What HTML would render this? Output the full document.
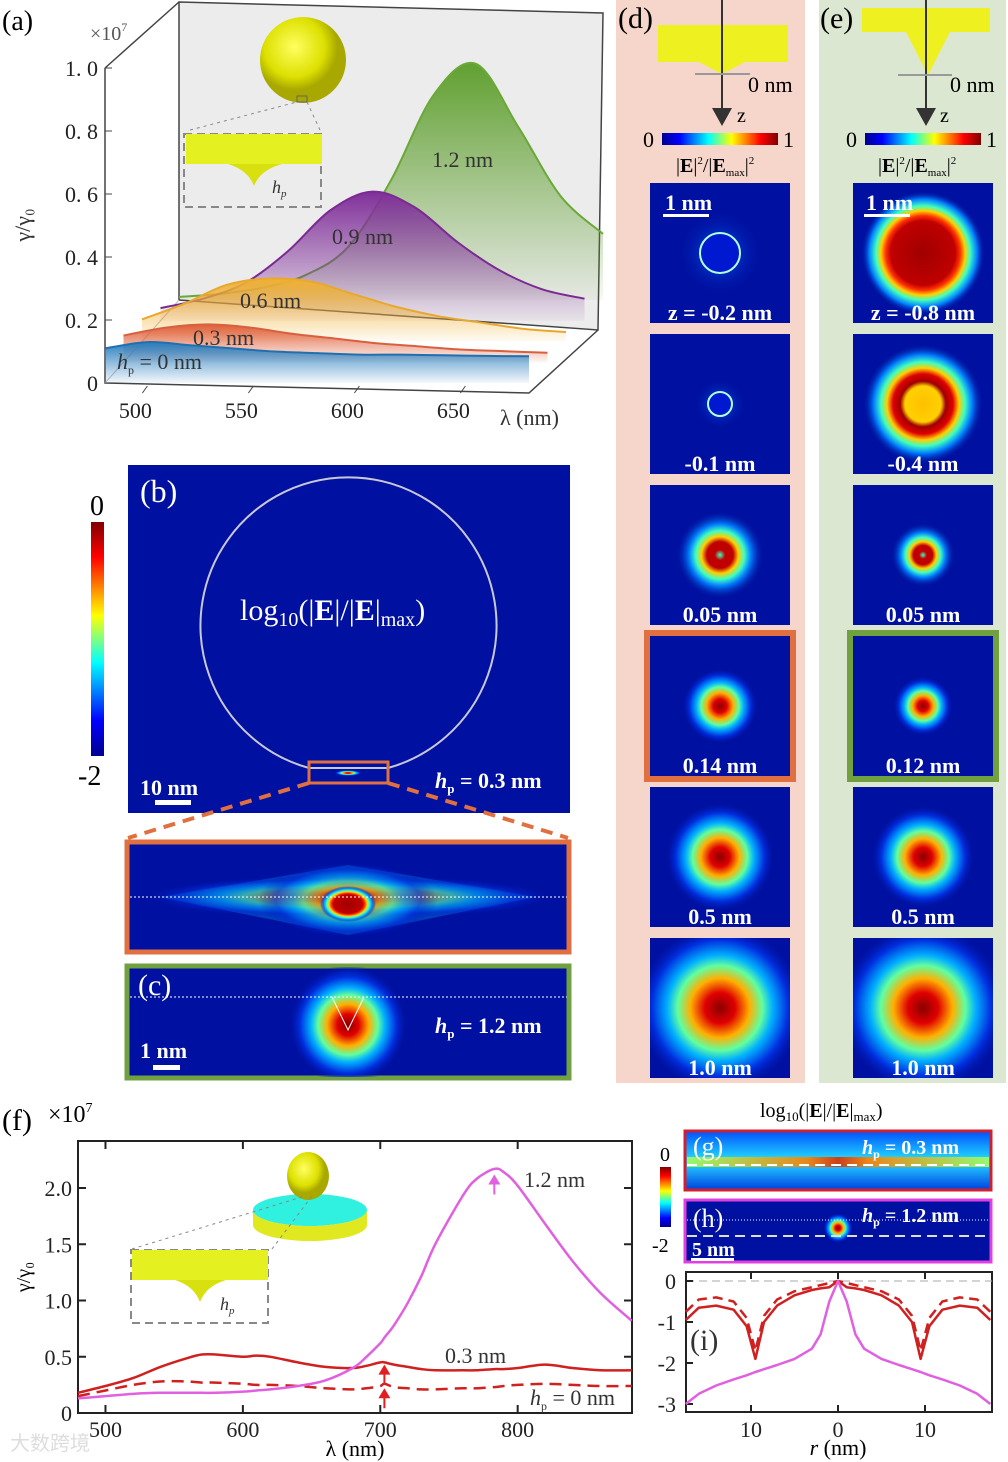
<!DOCTYPE html>
<html><head><meta charset="utf-8">
<style>
html,body{margin:0;padding:0;background:#fff;}
svg{display:block;font-family:"Liberation Serif",serif;}
svg text{font-family:"Liberation Serif",serif;}
.b{font-weight:bold;fill:#fff;}
</style></head>
<body>
<svg id="fig" width="1008" height="1462" viewBox="0 0 1008 1462" xmlns="http://www.w3.org/2000/svg">
<defs>
<radialGradient id="jet"><stop offset="0" stop-color="#8a0000"/><stop offset="0.18" stop-color="#e00000"/><stop offset="0.35" stop-color="#ffb000"/><stop offset="0.5" stop-color="#60ffa0"/><stop offset="0.62" stop-color="#00b0ff"/><stop offset="0.8" stop-color="#0030e0"/><stop offset="1" stop-color="#0010a0" stop-opacity="0"/></radialGradient>
<radialGradient id="jetD"><stop offset="0" stop-color="#a00000"/><stop offset="0.52" stop-color="#c00000"/><stop offset="0.6" stop-color="#ff3000"/><stop offset="0.68" stop-color="#ffd000"/><stop offset="0.76" stop-color="#40ffc0"/><stop offset="0.87" stop-color="#0080ff"/><stop offset="1" stop-color="#0010a0" stop-opacity="0"/></radialGradient>
<radialGradient id="jetY"><stop offset="0" stop-color="#ffc000"/><stop offset="0.3" stop-color="#ffd000"/><stop offset="0.38" stop-color="#a00000"/><stop offset="0.5" stop-color="#e00000"/><stop offset="0.6" stop-color="#ffd000"/><stop offset="0.7" stop-color="#40ffc0"/><stop offset="0.82" stop-color="#0080ff"/><stop offset="1" stop-color="#0010a0" stop-opacity="0"/></radialGradient>
<radialGradient id="jetR"><stop offset="0" stop-color="#40ffc0"/><stop offset="0.12" stop-color="#c00000"/><stop offset="0.3" stop-color="#c00000"/><stop offset="0.42" stop-color="#ffd000"/><stop offset="0.55" stop-color="#40ffc0"/><stop offset="0.7" stop-color="#0080ff"/><stop offset="1" stop-color="#0010a0" stop-opacity="0"/></radialGradient>
<radialGradient id="halo"><stop offset="0" stop-color="#0060ff"/><stop offset="1" stop-color="#0010a0" stop-opacity="0"/></radialGradient>
<linearGradient id="cbarH" x1="0" x2="1"><stop offset="0" stop-color="#00008f"/><stop offset="0.15" stop-color="#0000ff"/><stop offset="0.4" stop-color="#00ffff"/><stop offset="0.6" stop-color="#ffff00"/><stop offset="0.85" stop-color="#ff0000"/><stop offset="1" stop-color="#800000"/></linearGradient>
<linearGradient id="cbarV" x1="0" x2="0" y1="1" y2="0"><stop offset="0" stop-color="#00008f"/><stop offset="0.15" stop-color="#0000ff"/><stop offset="0.4" stop-color="#00ffff"/><stop offset="0.6" stop-color="#ffff00"/><stop offset="0.85" stop-color="#ff0000"/><stop offset="1" stop-color="#800000"/></linearGradient>
<radialGradient id="gold" cx="0.4" cy="0.35"><stop offset="0" stop-color="#ffff60"/><stop offset="0.7" stop-color="#dde000"/><stop offset="1" stop-color="#a8a800"/></radialGradient>
<linearGradient id="fBlue" x1="0" y1="0" x2="0" y2="1"><stop offset="0" stop-color="#2a7fc0"/><stop offset="1" stop-color="#2a7fc0" stop-opacity="0.05"/></linearGradient>
<linearGradient id="fRed" x1="0" y1="0" x2="0" y2="1"><stop offset="0" stop-color="#e0603a"/><stop offset="1" stop-color="#e0603a" stop-opacity="0.05"/></linearGradient>
<linearGradient id="fOr" x1="0" y1="0" x2="0" y2="1"><stop offset="0" stop-color="#f0b030"/><stop offset="1" stop-color="#f0b030" stop-opacity="0.05"/></linearGradient>
<linearGradient id="fPu" x1="0" y1="0" x2="0" y2="1"><stop offset="0" stop-color="#80309a"/><stop offset="1" stop-color="#80309a" stop-opacity="0.05"/></linearGradient>
<linearGradient id="fGr" x1="0" y1="0" x2="0" y2="1"><stop offset="0" stop-color="#60a030"/><stop offset="1" stop-color="#60a030" stop-opacity="0.05"/></linearGradient>
<linearGradient id="gBg" x1="0" y1="0" x2="0" y2="1"><stop offset="0" stop-color="#0050ff"/><stop offset="0.45" stop-color="#20d0ff"/><stop offset="0.6" stop-color="#20c0ff"/><stop offset="1" stop-color="#0040e0"/></linearGradient>
<linearGradient id="gBand" x1="0" x2="1"><stop offset="0" stop-color="#a0ff60"/><stop offset="0.4" stop-color="#ff8000"/><stop offset="0.5" stop-color="#e03000"/><stop offset="0.6" stop-color="#ff8000"/><stop offset="1" stop-color="#a0ff60"/></linearGradient>
<clipPath id="clipZoom"><rect x="128" y="843" width="440" height="108"/></clipPath>
<clipPath id="clipC"><rect x="128" y="967" width="440" height="110"/></clipPath>
</defs>

<!-- Panel (a) -->
<g>
<polygon points="179,2 603,13 598,330 179,300" fill="#ececec" stroke="#444" stroke-width="1.5"/>
<polyline points="105,68 179,2" fill="none" stroke="#444" stroke-width="1.5"/>
<line x1="179" y1="2" x2="179" y2="297" stroke="#444" stroke-dasharray="2,4"/>
<polyline points="105,68 105,383 529,393 598,330" fill="none" stroke="#444" stroke-width="1.5"/>
<line x1="105" y1="383" x2="179" y2="300" stroke="#bbb"/>
<g id="aTicks"></g>
<g id="aCurves"></g>
<text x="2" y="30" font-size="28">(a)</text>
<text x="90" y="40" font-size="20" fill="#555">×10<tspan font-size="12" dy="-9">7</tspan></text>
<text x="30" y="225" font-size="22" fill="#333" transform="rotate(-90 30 225)" text-anchor="middle">γ/γ₀</text>
<text x="500" y="425" font-size="22" fill="#333">λ (nm)</text>
<circle cx="303" cy="60" r="43" fill="url(#gold)"/>
<rect x="297" y="96" width="10" height="6" fill="none" stroke="#666"/>
<line x1="190" y1="130" x2="297" y2="102" stroke="#888" stroke-dasharray="3,4"/>
<line x1="307" y1="102" x2="320" y2="130" stroke="#888" stroke-dasharray="3,4"/>
<rect x="184" y="134" width="137" height="73" fill="none" stroke="#888" stroke-width="2" stroke-dasharray="8,5"/>
<rect x="186" y="134" width="136" height="30" fill="#e4f020"/>
<path d="M228,164 Q248,170 254,186 Q260,170 282,164 Z" fill="#d8e010"/>
<text x="272" y="193" font-size="18" font-style="italic" fill="#333">h<tspan font-size="11" dy="4">p</tspan></text>
<text x="432" y="167" font-size="22" fill="#333">1.2 nm</text>
<text x="332" y="244" font-size="22" fill="#333">0.9 nm</text>
<text x="240" y="308" font-size="22" fill="#333">0.6 nm</text>
<text x="193" y="345" font-size="22" fill="#333">0.3 nm</text>
<text x="117" y="369" font-size="22" fill="#333"><tspan font-style="italic">h</tspan><tspan font-size="12" dy="5">p</tspan><tspan dy="-5"> = 0 nm</tspan></text>
</g>

<!-- Panel (b) -->
<g>
<rect x="128" y="465" width="442" height="348" fill="#0010a0"/>
<path d="M309,768 A148,148 0 1 1 388,768 Z" fill="none" stroke="#c8c8d8" stroke-width="2"/>
<ellipse cx="348" cy="773" rx="14" ry="3" fill="url(#jet)"/>
<rect x="309" y="762" width="79" height="21" fill="none" stroke="#e07040" stroke-width="3"/>
<text x="140" y="502" font-size="32" fill="#fff">(b)</text>
<text x="240" y="620" font-size="30" fill="#fff">log<tspan font-size="20" dy="6">10</tspan><tspan dy="-6">(|<tspan font-weight="bold">E</tspan>|/|<tspan font-weight="bold">E</tspan>|<tspan font-size="20" dy="6">max</tspan><tspan dy="-6">)</tspan></tspan></text>
<text x="140" y="795" font-size="22" class="b">10 nm</text>
<rect x="155" y="800" width="36" height="5" fill="#fff"/>
<text x="435" y="788" font-size="22" class="b"><tspan font-style="italic">h</tspan><tspan font-size="13" dy="5">p</tspan><tspan dy="-5"> = 0.3 nm</tspan></text>
<rect x="91" y="522" width="13" height="234" fill="url(#cbarV)"/>
<text x="90" y="515" font-size="28">0</text>
<text x="78" y="785" font-size="28">-2</text>
<line x1="309" y1="783" x2="128" y2="838" stroke="#e07040" stroke-width="4" stroke-dasharray="12,8"/>
<line x1="388" y1="783" x2="568" y2="838" stroke="#e07040" stroke-width="4" stroke-dasharray="12,8"/>
<rect x="127" y="842" width="442" height="110" fill="#0010a0" stroke="#e07040" stroke-width="5"/>
<g clip-path="url(#clipZoom)">
<polygon points="160,897 348,865 536,897 348,935" fill="#00a0ff" opacity="0.35"/>
<ellipse cx="348" cy="897" rx="210" ry="22" fill="url(#jet)" opacity="0.55"/>
<ellipse cx="348" cy="900" rx="90" ry="38" fill="url(#jet)" opacity="0.6"/>
<ellipse cx="348" cy="904" rx="28" ry="18" fill="url(#jetD)"/>
</g>
<line x1="130" y1="897" x2="567" y2="897" stroke="#fff" stroke-dasharray="2,2"/>
<rect x="127" y="966" width="442" height="112" fill="#0010a0" stroke="#70a040" stroke-width="5"/>
<g clip-path="url(#clipC)">
<circle cx="348" cy="990" r="30" fill="url(#halo)"/>
<circle cx="348" cy="1025" r="60" fill="url(#jet)"/>
</g>
<line x1="130" y1="997" x2="567" y2="997" stroke="#fff" stroke-dasharray="2,2"/>
<path d="M332,997 L348,1030 L364,997" fill="none" stroke="#fff"/>
<text x="138" y="995" font-size="30" fill="#fff">(c)</text>
<text x="435" y="1033" font-size="22" class="b"><tspan font-style="italic">h</tspan><tspan font-size="13" dy="5">p</tspan><tspan dy="-5"> = 1.2 nm</tspan></text>
<text x="140" y="1058" font-size="22" class="b">1 nm</text>
<rect x="153" y="1065" width="27" height="5" fill="#fff"/>
</g>

<!-- Panel (d) & (e) -->
<g>
<rect x="616" y="0" width="189" height="1083" fill="#f6d6ca"/>
<text x="618" y="28" font-size="30">(d)</text>
<path d="M658,25 L788,25 L788,62 L745,62 L722,74 L699,62 L658,62 Z" fill="#eef020"/>
<line x1="722" y1="0" x2="722" y2="110" stroke="#333" stroke-width="2"/>
<polygon points="712,108 732,108 722,126" fill="#333"/>
<line x1="695" y1="74" x2="750" y2="74" stroke="#999" stroke-width="2"/>
<text x="748" y="92" font-size="22">0 nm</text>
<text x="737" y="122" font-size="20">z</text>
<text x="643" y="147" font-size="22">0</text>
<rect x="662" y="133" width="116" height="12" fill="url(#cbarH)"/>
<text x="783" y="147" font-size="22">1</text>
<text x="676" y="172" font-size="20">|<tspan font-weight="bold">E</tspan>|<tspan font-size="11" dy="-8">2</tspan><tspan dy="8">/|</tspan><tspan font-weight="bold">E</tspan><tspan font-size="11" dy="4">max</tspan><tspan dy="-4">|</tspan><tspan font-size="11" dy="-8">2</tspan></text>
</g>
<g>
<rect x="819" y="0" width="187" height="1083" fill="#dbe7d0"/>
<text x="820" y="28" font-size="30">(e)</text>
<path d="M862,8 L990,8 L990,32 L950,32 L928,75 L906,32 L862,32 Z" fill="#eef020"/>
<line x1="926" y1="0" x2="926" y2="110" stroke="#333" stroke-width="2"/>
<polygon points="916,108 936,108 926,126" fill="#333"/>
<line x1="898" y1="75" x2="952" y2="75" stroke="#999" stroke-width="2"/>
<text x="950" y="92" font-size="22">0 nm</text>
<text x="940" y="122" font-size="20">z</text>
<text x="846" y="147" font-size="22">0</text>
<rect x="865" y="133" width="116" height="12" fill="url(#cbarH)"/>
<text x="986" y="147" font-size="22">1</text>
<text x="878" y="172" font-size="20">|<tspan font-weight="bold">E</tspan>|<tspan font-size="11" dy="-8">2</tspan><tspan dy="8">/|</tspan><tspan font-weight="bold">E</tspan><tspan font-size="11" dy="4">max</tspan><tspan dy="-4">|</tspan><tspan font-size="11" dy="-8">2</tspan></text>
</g>
<g id="maps"></g>

<!-- Panel (f) -->
<g>
<text x="2" y="1130" font-size="30">(f)</text>
<text x="48" y="1122" font-size="24">×10<tspan font-size="14" dy="-10">7</tspan></text>
<rect x="78" y="1141" width="554" height="272" fill="none" stroke="#222" stroke-width="2"/>
<g id="fTicks"></g>
<g id="fLines"></g>
<text x="30" y="1277" font-size="20" transform="rotate(-90 30 1277)" text-anchor="middle">γ/γ₀</text>
<text x="355" y="1456" font-size="22" text-anchor="middle">λ (nm)</text>
<text x="524" y="1187" font-size="22" fill="#333">1.2 nm</text>
<text x="445" y="1363" font-size="22" fill="#333">0.3 nm</text>
<text x="530" y="1405" font-size="22" fill="#333"><tspan font-style="italic">h</tspan><tspan font-size="12" dy="5">p</tspan><tspan dy="-5"> = 0 nm</tspan></text>
<ellipse cx="310" cy="1210" rx="57" ry="16" fill="#30f0e0"/>
<path d="M253,1210 L253,1225 A57,16 0 0 0 367,1225 L367,1210 A57,16 0 0 1 253,1210 Z" fill="#e0e820"/>
<ellipse cx="308" cy="1176" rx="21" ry="24" fill="url(#gold)"/>
<line x1="132" y1="1249" x2="305" y2="1196" stroke="#888" stroke-dasharray="3,4"/>
<line x1="272" y1="1249" x2="312" y2="1196" stroke="#888" stroke-dasharray="3,4"/>
<rect x="131" y="1250" width="137" height="73" fill="none" stroke="#888" stroke-width="2" stroke-dasharray="8,5"/>
<rect x="132" y="1250" width="136" height="30" fill="#e4f020"/>
<path d="M175,1280 Q194,1286 200,1302 Q206,1286 226,1280 Z" fill="#d8e010"/>
<text x="220" y="1310" font-size="18" font-style="italic" fill="#333">h<tspan font-size="11" dy="4">p</tspan></text>
</g>

<!-- Panels g h i -->
<g>
<text x="760" y="1117" font-size="20">log<tspan font-size="13" dy="4">10</tspan><tspan dy="-4">(|<tspan font-weight="bold">E</tspan>|/|<tspan font-weight="bold">E</tspan>|<tspan font-size="13" dy="4">max</tspan><tspan dy="-4">)</tspan></tspan></text>
<rect x="660" y="1167" width="11" height="60" fill="url(#cbarV)"/>
<text x="660" y="1161" font-size="20">0</text>
<text x="652" y="1252" font-size="20">-2</text>
<rect x="685" y="1131" width="306" height="59" fill="url(#gBg)" stroke="#d02030" stroke-width="3"/>
<rect x="687" y="1157" width="302" height="10" fill="url(#gBand)" opacity="0.9"/>
<line x1="687" y1="1165" x2="989" y2="1165" stroke="#fff" stroke-width="2" stroke-dasharray="10,6"/>
<text x="693" y="1155" font-size="26" fill="#fff">(g)</text>
<text x="862" y="1154" font-size="20" class="b"><tspan font-style="italic">h</tspan><tspan font-size="12" dy="4">p</tspan><tspan dy="-4"> = 0.3 nm</tspan></text>
<rect x="685" y="1200" width="306" height="62" fill="#0010a0" stroke="#e040e0" stroke-width="3"/>
<circle cx="838" cy="1228" r="15" fill="url(#jet)"/>
<line x1="687" y1="1220" x2="989" y2="1220" stroke="#fff" stroke-dasharray="1,2"/>
<line x1="687" y1="1236" x2="989" y2="1236" stroke="#ddd" stroke-width="2" stroke-dasharray="10,6"/>
<text x="693" y="1227" font-size="26" fill="#fff">(h)</text>
<text x="862" y="1222" font-size="20" class="b"><tspan font-style="italic">h</tspan><tspan font-size="12" dy="4">p</tspan><tspan dy="-4"> = 1.2 nm</tspan></text>
<text x="692" y="1256" font-size="20" class="b">5 nm</text>
<rect x="691" y="1258" width="43" height="3" fill="#fff"/>
<rect x="686" y="1272" width="306" height="140" fill="none" stroke="#222" stroke-width="2"/>
<g id="iTicks"></g>
<g id="iLines"></g>
<text x="690" y="1350" font-size="30" fill="#333">(i)</text>
<text x="838" y="1455" font-size="22" text-anchor="middle"><tspan font-style="italic">r</tspan> (nm)</text>
</g>
<text x="10" y="1450" font-size="20" fill="#ddd">大数跨境</text>
</svg>
<script>
// ---------- data: panel (a) ----------
const aLam0 = [480,500,520,540,560,580,600,620,640,660,680];
const aH0  = [0.11,0.13,0.12,0.11,0.10,0.095,0.09,0.09,0.088,0.086,0.085];
const aH03 = [0.085,0.11,0.12,0.11,0.09,0.075,0.06,0.05,0.04,0.035,0.03];
const aH06 = [0.07,0.12,0.18,0.20,0.19,0.15,0.11,0.08,0.06,0.04,0.03];
const aH09 = [0.04,0.07,0.12,0.22,0.35,0.41,0.36,0.25,0.16,0.10,0.07];
const aH12 = [0.01,0.02,0.04,0.08,0.17,0.38,0.65,0.75,0.55,0.33,0.21];
const aXTicks = [500,550,600,650];
const aYTicks = [0,0.2,0.4,0.6,0.8,1.0];
const aYLabels = ["0","0. 2","0. 4","0. 6","0. 8","1. 0"];
// ---------- data: panel (f) ----------
const fLam = [480,500,520,540,560,570,580,600,610,620,640,660,680,690,700,703,710,720,730,740,760,770,783,790,800,820,840,860,883];
const fH12 = [0.13,0.15,0.17,0.18,0.18,0.18,0.18,0.19,0.2,0.21,0.24,0.29,0.4,0.5,0.62,0.67,0.78,0.98,1.22,1.5,1.93,2.08,2.17,2.14,2.02,1.68,1.35,1.07,0.82];
const fH03 = [0.18,0.24,0.31,0.41,0.49,0.52,0.52,0.50,0.51,0.50,0.45,0.41,0.40,0.42,0.45,0.45,0.43,0.41,0.39,0.38,0.38,0.38,0.39,0.39,0.40,0.43,0.40,0.38,0.38];
const fH0  = [0.15,0.2,0.25,0.28,0.28,0.27,0.27,0.26,0.25,0.25,0.24,0.22,0.21,0.22,0.24,0.26,0.23,0.22,0.21,0.21,0.22,0.22,0.23,0.24,0.25,0.26,0.25,0.24,0.24];
const fXTicks = [500,600,700,800];
const fYTicks = [0,0.5,1.0,1.5,2.0];
const fYLabels = ["0","0.5","1.0","1.5","2.0"];
// ---------- data: panel (i) ----------
const iR = [0,1,2,3,5,7,8.5,9.5,10.5,12,14,16,17.5];
const iSolid = [0,-0.15,-0.18,-0.22,-0.35,-0.6,-1.0,-1.9,-1.1,-0.7,-0.6,-0.65,-0.95];
const iDash = [0,-0.05,-0.1,-0.15,-0.25,-0.45,-0.85,-1.7,-0.9,-0.5,-0.4,-0.45,-0.75];
const iMag = [0,-0.5,-1.3,-1.65,-1.9,-2.05,-2.15,-2.22,-2.3,-2.4,-2.55,-2.75,-3.0];
const iXTicks = [-10,0,10];
const iYTicks = [0,-1,-2,-3];

const NS="http://www.w3.org/2000/svg";
function mk(tag,attrs,parent){const e=document.createElementNS(NS,tag);for(const k in attrs)e.setAttribute(k,attrs[k]);parent.appendChild(e);return e;}
function txt(x,y,s,size,anchor,parent){const t=mk('text',{x:x,y:y,'font-size':size,'text-anchor':anchor,fill:'#222'},parent);t.textContent=s;return t;}
function smooth(pts){let d='M'+pts[0][0].toFixed(1)+','+pts[0][1].toFixed(1);
 for(let i=0;i<pts.length-1;i++){const p0=pts[Math.max(0,i-1)],p1=pts[i],p2=pts[i+1],p3=pts[Math.min(pts.length-1,i+2)];
  const c1=[p1[0]+(p2[0]-p0[0])/6,p1[1]+(p2[1]-p0[1])/6],c2=[p2[0]-(p3[0]-p1[0])/6,p2[1]-(p3[1]-p1[1])/6];
  d+='C'+c1[0].toFixed(1)+','+c1[1].toFixed(1)+' '+c2[0].toFixed(1)+','+c2[1].toFixed(1)+' '+p2[0].toFixed(1)+','+p2[1].toFixed(1);}
 return d;}

// panel a
const aX=(l,d)=>105+(l-480)*2.12+d*74;
const aY=(v,d)=>383-v*315-d*83;
const aT=document.getElementById('aTicks');
aYTicks.forEach((v,i)=>{mk('line',{x1:105,y1:aY(v,0),x2:112,y2:aY(v,0),stroke:'#444'},aT);const t=txt(98,aY(v,0)+8,aYLabels[i],22,'end',aT);});
aXTicks.forEach(l=>{mk('line',{x1:aX(l,0),y1:386,x2:aX(l,0)-5,y2:393,stroke:'#444'},aT);const t=txt(aX(l,0)-12,418,String(l),22,'middle',aT);});
const aC=document.getElementById('aCurves');
const aSeries=[[aH12,1,'#6aa838','fGr','curve-1.2nm'],[aH09,0.75,'#7a2a90','fPu','curve-0.9nm'],[aH06,0.5,'#e8a830','fOr','curve-0.6nm'],[aH03,0.25,'#d86040','fRed','curve-0.3nm'],[aH0,0,'#2070b0','fBlue','curve-0nm']];
aSeries.forEach(s=>{const [vals,d,col,fill,name]=s;const pts=aLam0.map((l,i)=>[aX(l,d),aY(vals[i],d)]);const p=smooth(pts);
 const last=aLam0.length-1;const area=p+'L'+aX(aLam0[last],d).toFixed(1)+','+aY(0,d).toFixed(1)+'L'+aX(aLam0[0],d).toFixed(1)+','+aY(0,d).toFixed(1)+'Z';
 const a=mk('path',{d:area,fill:'url(#'+fill+')'},aC);
 const l=mk('path',{d:p,fill:'none',stroke:col,'stroke-width':2},aC);});

// panel f
const fX=l=>78+(l-480)*1.374;
const fY=v=>1413-v*112.5;
const fT=document.getElementById('fTicks');
fYTicks.forEach((v,i)=>{mk('line',{x1:78,y1:fY(v),x2:86,y2:fY(v),stroke:'#222','stroke-width':2},fT);mk('line',{x1:624,y1:fY(v),x2:632,y2:fY(v),stroke:'#222','stroke-width':2},fT);const t=txt(72,fY(v)+8,fYLabels[i],22,'end',fT);});
fXTicks.forEach(l=>{mk('line',{x1:fX(l),y1:1413,x2:fX(l),y2:1405,stroke:'#222','stroke-width':2},fT);mk('line',{x1:fX(l),y1:1141,x2:fX(l),y2:1149,stroke:'#222','stroke-width':2},fT);const t=txt(fX(l),1437,String(l),22,'middle',fT);});
const fL=document.getElementById('fLines');
function fline(vals,col,dash,name){const p=smooth(fLam.map((l,i)=>[fX(l),fY(vals[i])]));const e=mk('path',{d:p,fill:'none',stroke:col,'stroke-width':2.5},fL);if(dash)e.setAttribute('stroke-dasharray',dash);}
fline(fH0,'#d02020','12,7','f-line-0nm');fline(fH03,'#d02020',null,'f-line-0.3nm');fline(fH12,'#e060e0',null,'f-line-1.2nm');
function arrow(x,y,col){mk('polygon',{points:(x-6)+','+(y+10)+' '+(x+6)+','+(y+10)+' '+x+','+y,fill:col},fL);mk('line',{x1:x,y1:y+8,x2:x,y2:y+20,stroke:col,'stroke-width':2},fL);}
arrow(fX(783),fY(2.12),'#e060e0');arrow(fX(703),fY(0.43),'#e02020');arrow(fX(703),fY(0.22),'#e02020');

// panel i
const iX=r=>838+r*8.7;
const iY=v=>1281-v*41;
const iT=document.getElementById('iTicks');
mk('line',{x1:686,y1:iY(0),x2:992,y2:iY(0),stroke:'#aaa','stroke-dasharray':'8,5'},iT);
iYTicks.forEach(v=>{mk('line',{x1:686,y1:iY(v),x2:693,y2:iY(v),stroke:'#222','stroke-width':2},iT);const t=txt(676,iY(v)+8,String(v),22,'end',iT);});
iXTicks.forEach(r=>{mk('line',{x1:iX(r),y1:1412,x2:iX(r),y2:1405,stroke:'#222','stroke-width':2},iT);mk('line',{x1:iX(r),y1:1272,x2:iX(r),y2:1279,stroke:'#222','stroke-width':2},iT);const t=txt(iX(r),1437,String(Math.abs(r)),22,'middle',iT);});
const iL=document.getElementById('iLines');
function iline(vals,col,dash,name){let pts=[];for(let i=iR.length-1;i>=0;i--)pts.push([iX(-iR[i]),iY(vals[i])]);for(let i=1;i<iR.length;i++)pts.push([iX(iR[i]),iY(vals[i])]);
 const p=pts.map((q,i)=>(i?'L':'M')+q[0].toFixed(1)+','+q[1].toFixed(1)).join('');const e=mk('path',{d:p,fill:'none',stroke:col,'stroke-width':2.5,'stroke-linejoin':'round'},iL);if(dash)e.setAttribute('stroke-dasharray',dash);}
iline(iDash,'#d02020','10,6','i-line-dashed');iline(iSolid,'#d02020',null,'i-line-solid');iline(iMag,'#e060e0',null,'i-line-1.2nm');

// heatmaps d/e
const mapY=[183,334,485,636,787,938];
const dLabels=["z = -0.2 nm","-0.1 nm","0.05 nm","0.14 nm","0.5 nm","1.0 nm"];
const eLabels=["z = -0.8 nm","-0.4 nm","0.05 nm","0.12 nm","0.5 nm","1.0 nm"];
const M=document.getElementById('maps');
let clipId=0;
function sq(x0,y,lab,kind,size,border,name){const g=mk('g',{},M);
 if(border)mk('rect',{x:x0-3,y:y-3,width:146,height:146,fill:'none',stroke:border,'stroke-width':6},g);
 const cid='sqc'+(clipId++);const cp=mk('clipPath',{id:cid},g);mk('rect',{x:x0,y:y,width:140,height:140},cp);
 mk('rect',{x:x0,y:y,width:140,height:140,fill:'#0010a0'},g);
 const inner=mk('g',{'clip-path':'url(#'+cid+')'},g);
 const cx=x0+70,cy=y+70;
 if(kind==='ring'){mk('circle',{cx:cx,cy:cy,r:size*2.2,fill:'url(#halo)'},inner);mk('circle',{cx:cx,cy:cy,r:size,fill:'#0018d0',stroke:'#b0ffe0','stroke-width':2},inner);}
 else mk('circle',{cx:cx,cy:cy,r:size,fill:'url(#'+kind+')'},inner);
 const t=mk('text',{x:cx,y:y+137,'font-size':22,'text-anchor':'middle',class:'b'},g);t.textContent=lab;}
const dKinds=[['ring',20],['ring',12],['jetR',44],['jet',38],['jet',55],['jet',85]];
const eKinds=[['jetD',62],['jetY',60],['jetR',32],['jet',30],['jet',52],['jet',85]];
mapY.forEach((y,i)=>{sq(650,y,dLabels[i],dKinds[i][0],dKinds[i][1],i===3?'#e07040':null,'d-map-'+i);sq(853,y,eLabels[i],eKinds[i][0],eKinds[i][1],i===3?'#70a040':null,'e-map-'+i);});
[[665,650],[866,853]].forEach(v=>{const t=mk('text',{x:v[0],y:210,'font-size':22,class:'b'},M);t.textContent='1 nm';mk('rect',{x:v[0]-2,y:214,width:46,height:3,fill:'#fff'},M);});
</script>
</body></html>
